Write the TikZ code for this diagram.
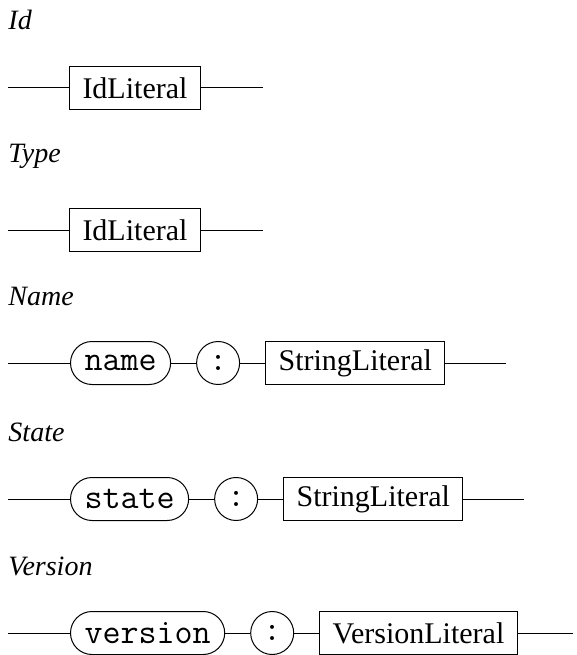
\documentclass[tikz,border=0pt]{standalone}
\usepackage{fontspec}
\setmainfont{Liberation Serif}
\usepackage{tikz}
\usetikzlibrary{positioning}

\begin{document}
\begin{tikzpicture}[
    x=1pt, y=1pt,
    line width=1pt,
    node distance=25pt,
    title/.style={
        font=\fontsize{28}{30}\selectfont\itshape,
        anchor=base west,
        inner sep=0pt
    },
    nonterm/.style={
        draw,
        minimum height=43pt,
        inner xsep=13pt,
        inner ysep=0pt,
        font=\fontsize{30}{32}\selectfont
    },
    term/.style={
        draw,
        rounded corners=21.5pt,
        minimum height=43pt,
        inner xsep=14pt,
        inner ysep=0pt,
        font=\fontsize{35}{36}\selectfont\ttfamily
    },
    sym/.style={
        draw,
        circle,
        minimum size=43pt,
        inner sep=0pt,
        font=\fontsize{35}{36}\selectfont\ttfamily
    }
]

\useasboundingbox (0,0) rectangle (577,-655);

% Id
\node[title] (idtitle) at (8,-30) {Id};
\coordinate (idstart) at (8,-88);
\node[nonterm, right=61pt of idstart] (idlit) {IdLiteral};
\coordinate[right=62pt of idlit] (idend);
\draw (idstart) -- (idlit) -- (idend);

% Type
\node[title] (typetitle) at (8,-163) {Type};
\coordinate (typestart) at (8,-230);
\node[nonterm, right=61pt of typestart] (typelit) {IdLiteral};
\coordinate[right=62pt of typelit] (typeend);
\draw (typestart) -- (typelit) -- (typeend);

% Name
\node[title] (nametitle) at (8,-305) {Name};
\coordinate (namestart) at (8,-363);
\node[term, right=62pt of namestart] (namekw) {name};
\node[sym, right=of namekw] (namecolon) {:};
\node[nonterm, right=of namecolon] (namelit) {StringLiteral};
\coordinate[right=61pt of namelit] (nameend);
\draw (namestart) -- (namekw) -- (namecolon) -- (namelit) -- (nameend);

% State
\node[title] (statetitle) at (8,-441) {State};
\coordinate (statestart) at (8,-499);
\node[term, right=62pt of statestart] (statekw) {state};
\node[sym, right=of statekw] (statecolon) {:};
\node[nonterm, right=of statecolon] (statelit) {StringLiteral};
\coordinate[right=61pt of statelit] (stateend);
\draw (statestart) -- (statekw) -- (statecolon) -- (statelit) -- (stateend);

% Version
\node[title] (versiontitle) at (8,-575) {Version};
\coordinate (versionstart) at (8,-633);
\node[term, right=62pt of versionstart] (versionkw) {version};
\node[sym, right=of versionkw] (versioncolon) {:};
\node[nonterm, right=of versioncolon] (versionlit) {VersionLiteral};
\coordinate[right=55pt of versionlit] (versionend);
\draw (versionstart) -- (versionkw) -- (versioncolon) -- (versionlit) -- (versionend);

\end{tikzpicture}
\end{document}
